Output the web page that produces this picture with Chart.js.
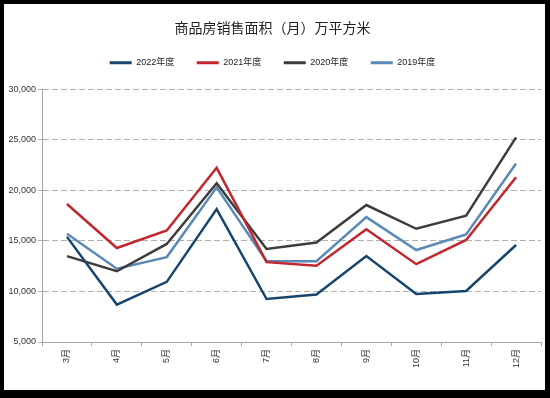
<!DOCTYPE html>
<html><head><meta charset="utf-8">
<script src="https://cdn.jsdelivr.net/npm/chart.js@4/dist/chart.umd.min.js"></script>
<style>
html,body{margin:0;padding:0;background:#000;width:550px;height:398px;overflow:hidden}
#wrap{position:absolute;left:4px;top:4px;width:541px;height:386px;background:#fff}
</style></head><body>
<div id="wrap"><canvas id="c" width="541" height="386"></canvas></div>
<script>
const months = ["3月","4月","5月","6月","7月","8月","9月","10月","11月","12月"];
const s2022 = [15400, 8700, 10950, 18150, 9250, 9700, 13500, 9750, 10050, 14600];
const s2021 = [18650, 14300, 16030, 22230, 12900, 12550, 16150, 12700, 15100, 21300];
const s2020 = [13500, 12000, 14700, 20700, 14200, 14850, 18550, 16200, 17500, 25250];
const s2019 = [15700, 12250, 13400, 20300, 13000, 13000, 17350, 14100, 15650, 22650];
const yTicks = [5000, 10000, 15000, 20000, 25000, 30000];
const names = ["2022年度","2021年度","2020年度","2019年度"];
const colors = ["#17456b","#c1272d","#3d3d3d","#5a8ab5"];
const series = [s2022, s2021, s2020, s2019];

const FONT = '"Liberation Sans","Noto Sans CJK SC",sans-serif';
const legendSpace = {
  id: 'legendSpace',
  afterInit(chart) {
    const lg = chart.legend;
    if (lg) {
      const orig = lg.fit;
      lg.fit = function() { orig.call(this); this.height += 12; };
    }
  }
};
new Chart(document.getElementById('c'), {
  type: 'line',
  data: {
    labels: months,
    datasets: series.map((d,i)=>({
      label: names[i], data: d, borderColor: colors[i], backgroundColor: colors[i],
      borderWidth: 2.5, pointRadius: 0, tension: 0, fill: false
    }))
  },
  plugins: [legendSpace],
  options: {
    responsive: false, animation: false,
    layout: {padding: {left: 0, right: 4, top: 0, bottom: 0}},
    plugins: {
      title: {display: true, text: '商品房销售面积（月）万平方米', color: '#222',
        font: {family: '"Noto Sans CJK SC",sans-serif', size: 14, weight: 'normal'},
        padding: {top: 15, bottom: 0}},
      legend: {display: true, position: 'top',
        labels: {boxWidth: 22, boxHeight: 3, padding: 22.5, color: '#222',
          font: {family: FONT, size: 9},
          generateLabels: (chart) => Chart.defaults.plugins.legend.labels.generateLabels(chart)
            .map(l => Object.assign(l, {lineWidth: 0, fillStyle: l.strokeStyle}))}},
      tooltip: {enabled: false}
    },
    scales: {
      x: {
        offset: true,
        grid: {display: true, drawOnChartArea: false, offset: true, tickLength: 4, color: '#a6a6a6'},
        border: {display: true, color: '#a6a6a6', width: 1},
        ticks: {minRotation: 90, maxRotation: 90, padding: 3, color: '#333', font: {family: FONT, size: 9}},
        afterFit: s => { s.height = 48; }
      },
      y: {
        min: 5000, max: 30000,
        afterBuildTicks: s => { s.ticks = yTicks.map(v => ({value: v})); },
        grid: {color: '#b0b0b0', tickLength: 4, lineWidth: 1},
        border: {display: true, color: '#a6a6a6', width: 1, dash: [6, 3]},
        ticks: {padding: 2, color: '#333', font: {family: FONT, size: 9},
          callback: v => v.toLocaleString('en-US')},
        afterFit: s => { s.width = 38; }
      }
    }
  }
});
</script></body></html>
